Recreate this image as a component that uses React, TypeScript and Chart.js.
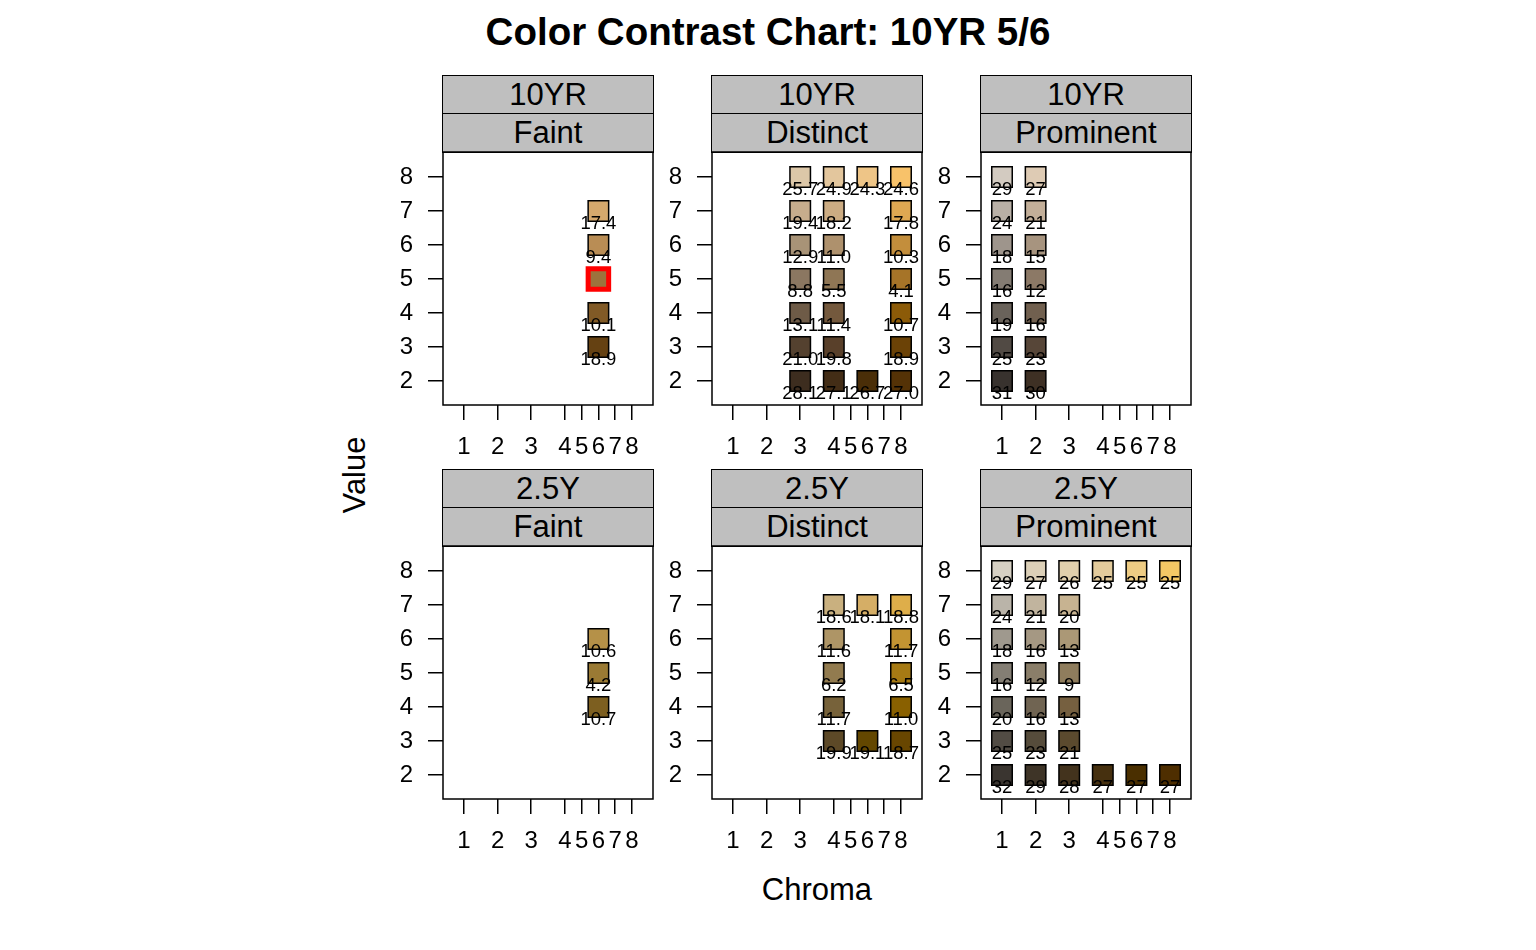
import React, { useEffect, useRef } from "react";
import { Chart, registerables } from "chart.js";
Chart.register(...registerables);

const FONT = "'Liberation Sans', Arial, Helvetica, sans-serif";

const chartTitle = "Color Contrast Chart: 10YR 5/6";
const xTitle = "Chroma";
const yTitle = "Value";
const hueRows = ["10YR", "2.5Y"];
const contrastCols = ["Faint", "Distinct", "Prominent"];
const chromaLevels = [1, 2, 3, 4, 6, 8];
const chromaTicks = [1, 2, 3, 4, 5, 6, 7, 8];
const valueTicks = [2, 3, 4, 5, 6, 7, 8];
const targetHue = "10YR";
const targetValue = 5;
const targetChroma = 6;

// 10YR Faint
const yr10FaintChroma = [6, 6, 6, 6, 6];
const yr10FaintValue = [7, 6, 5, 4, 3];
const yr10FaintLabel = ["17.4", "9.4", "", "10.1", "18.9"];
const yr10FaintColor = ["#D5A96D", "#B98D55", "#9D733D", "#815A26", "#654112"];

// 10YR Distinct
const yr10DistinctChroma = [3, 4, 6, 8, 3, 4, 8, 3, 4, 8, 3, 4, 8, 3, 4, 8, 3, 4, 8, 3, 4, 6, 8];
const yr10DistinctValue = [8, 8, 8, 8, 7, 7, 7, 6, 6, 6, 5, 5, 5, 4, 4, 4, 3, 3, 3, 2, 2, 2, 2];
const yr10DistinctLabel = ["25.7", "24.9", "24.3", "24.6", "19.4", "18.2", "17.8", "12.9", "11.0", "10.3", "8.8", "5.5", "4.1", "13.1", "11.4", "10.7", "21.0", "19.8", "18.9", "28.1", "27.1", "26.7", "27.0"];
const yr10DistinctColor = ["#DCC7A8", "#E3C69D", "#EEC587", "#F8C26A", "#C7AD8D", "#CCAC83", "#DFA852", "#A89377", "#AE916D", "#C38E3C", "#8B7761", "#8F7655", "#A67428", "#6E5B47", "#74593D", "#8C5B08", "#54412F", "#59402A", "#6B4206", "#3D2D1F", "#432D16", "#4A2E08", "#543206"];

// 10YR Prominent
const yr10ProminentChroma = [1, 2, 1, 2, 1, 2, 1, 2, 1, 2, 1, 2, 1, 2];
const yr10ProminentValue = [8, 8, 7, 7, 6, 6, 5, 5, 4, 4, 3, 3, 2, 2];
const yr10ProminentLabel = ["29", "27", "24", "21", "18", "15", "16", "12", "19", "16", "25", "23", "31", "30"];
const yr10ProminentColor = ["#D3CBC1", "#DECBB4", "#B9B0A6", "#C3AF99", "#9E958C", "#A7947F", "#847C73", "#8C7966", "#6A635B", "#71604F", "#514A44", "#574638", "#38322E", "#3E3024"];

// 2.5Y Faint
const y25FaintChroma = [6, 6, 6];
const y25FaintValue = [6, 5, 4];
const y25FaintLabel = ["10.6", "4.2", "10.7"];
const y25FaintColor = ["#B59148", "#9A7A34", "#7D5F20"];

// 2.5Y Distinct
const y25DistinctChroma = [4, 6, 8, 4, 8, 4, 8, 4, 8, 4, 6, 8];
const y25DistinctValue = [7, 7, 7, 6, 6, 5, 5, 4, 4, 3, 3, 3];
const y25DistinctLabel = ["18.6", "18.1", "18.8", "11.6", "11.7", "6.2", "6.5", "11.7", "11.0", "19.9", "19.1", "18.7"];
const y25DistinctColor = ["#C9B07F", "#D5AE66", "#DEAE4A", "#AE9566", "#C39432", "#927B4F", "#A67A14", "#77623A", "#896000", "#5D4927", "#634700", "#684600"];

// 2.5Y Prominent
const y25ProminentChroma = [1, 2, 3, 4, 6, 8, 1, 2, 3, 1, 2, 3, 1, 2, 3, 1, 2, 3, 1, 2, 3, 1, 2, 3, 4, 6, 8];
const y25ProminentValue = [8, 8, 8, 8, 8, 8, 7, 7, 7, 6, 6, 6, 5, 5, 5, 4, 4, 4, 3, 3, 3, 2, 2, 2, 2, 2, 2];
const y25ProminentLabel = ["29", "27", "26", "25", "25", "25", "24", "21", "20", "18", "16", "13", "16", "12", "9", "20", "16", "13", "25", "23", "21", "32", "29", "28", "27", "27", "27"];
const y25ProminentColor = ["#D6D0C3", "#DCD0B8", "#E1D0AC", "#E3CB9C", "#EECC84", "#F3C865", "#BAB4A9", "#C1B49E", "#C7B391", "#9F998E", "#A59883", "#AB9876", "#847E74", "#8A7E69", "#8F7D5D", "#6A655B", "#706452", "#766040", "#524C44", "#564C3B", "#5B4A2E", "#3A3530", "#3E3427", "#43331D", "#46300F", "#4A2F00", "#4E2E00"];

type PanelData = {
  hue: string;
  contrast: string;
  chroma: number[];
  value: number[];
  label: string[];
  color: string[];
};

const panels: PanelData[] = [
  { hue: hueRows[0], contrast: contrastCols[0], chroma: yr10FaintChroma, value: yr10FaintValue, label: yr10FaintLabel, color: yr10FaintColor },
  { hue: hueRows[0], contrast: contrastCols[1], chroma: yr10DistinctChroma, value: yr10DistinctValue, label: yr10DistinctLabel, color: yr10DistinctColor },
  { hue: hueRows[0], contrast: contrastCols[2], chroma: yr10ProminentChroma, value: yr10ProminentValue, label: yr10ProminentLabel, color: yr10ProminentColor },
  { hue: hueRows[1], contrast: contrastCols[0], chroma: y25FaintChroma, value: y25FaintValue, label: y25FaintLabel, color: y25FaintColor },
  { hue: hueRows[1], contrast: contrastCols[1], chroma: y25DistinctChroma, value: y25DistinctValue, label: y25DistinctLabel, color: y25DistinctColor },
  { hue: hueRows[1], contrast: contrastCols[2], chroma: y25ProminentChroma, value: y25ProminentValue, label: y25ProminentLabel, color: y25ProminentColor },
];

// chroma levels are spaced evenly; intermediate chroma values interpolate
function chromaPos(c: number): number {
  for (let i = 0; i < chromaLevels.length; i++) {
    if (chromaLevels[i] === c) return i + 1;
    if (i + 1 < chromaLevels.length && c > chromaLevels[i] && c < chromaLevels[i + 1]) {
      return i + 1 + (c - chromaLevels[i]) / (chromaLevels[i + 1] - chromaLevels[i]);
    }
  }
  return c;
}

// layout
const PANEL_W = 210;
const PLOT_H = 253;
const STRIP_H = 38;
const COL_LEFT = [443, 712, 981];
const ROW_STRIP_TOP = [76, 470];
const Y_AXIS_W = 63;
const X_AXIS_H = 60;
const PAD_TOP = 10;
const PAD_RIGHT = 6;

const boxPlugin = {
  id: "panelBox",
  afterDatasetsDraw(chart: any) {
    const { ctx, chartArea } = chart;
    ctx.save();
    ctx.strokeStyle = "#000";
    ctx.lineWidth = 1.5;
    ctx.strokeRect(chartArea.left, chartArea.top, chartArea.right - chartArea.left, chartArea.bottom - chartArea.top);
    ctx.restore();
  },
};

const labelPlugin = {
  id: "pointLabels",
  afterDraw(chart: any) {
    const { ctx } = chart;
    const ds = chart.data.datasets[0];
    const texts: string[] = ds.labelTexts || [];
    const meta = chart.getDatasetMeta(0);
    ctx.save();
    ctx.fillStyle = "#000";
    ctx.font = `18.5px ${FONT}`;
    ctx.textAlign = "center";
    ctx.textBaseline = "middle";
    meta.data.forEach((el: any, i: number) => {
      const t = texts[i];
      if (!t) return;
      ctx.fillText(t, el.x, el.y + 12.5);
    });
    ctx.restore();
  },
};

function zeroPadding(scale: any) {
  scale.paddingTop = 0;
  scale.paddingBottom = 0;
  scale.paddingLeft = 0;
  scale.paddingRight = 0;
}

function PanelChart({ panel, left, plotTop }: { panel: PanelData; left: number; plotTop: number }) {
  const ref = useRef<HTMLCanvasElement | null>(null);
  useEffect(() => {
    if (!ref.current) return;
    const isTarget = (i: number) =>
      panel.hue === targetHue && panel.chroma[i] === targetChroma && panel.value[i] === targetValue && panel.contrast === contrastCols[0];
    const borderColors = panel.chroma.map((_, i) => (isTarget(i) ? "#FF0000" : "#000000"));
    const borderWidths = panel.chroma.map((_, i) => (isTarget(i) ? 5 : 1.5));
    const chart = new Chart(ref.current, {
      type: "scatter",
      data: {
        datasets: [
          {
            data: panel.chroma.map((c, i) => ({ x: chromaPos(c), y: panel.value[i] })),
            labelTexts: panel.label,
            pointStyle: "rect",
            pointRadius: 14.5,
            pointHoverRadius: 14.5,
            pointBackgroundColor: panel.color,
            pointBorderColor: borderColors,
            pointBorderWidth: borderWidths,
            pointHoverBorderWidth: borderWidths,
            clip: false,
          } as any,
        ],
      },
      options: {
        animation: false,
        responsive: false,
        devicePixelRatio: 1,
        events: [],
        layout: { autoPadding: false, padding: { top: PAD_TOP, right: PAD_RIGHT, left: 0, bottom: 0 } },
        plugins: { legend: { display: false }, tooltip: { enabled: false }, title: { display: false } },
        scales: {
          x: {
            type: "linear",
            min: 0.375,
            max: 6.625,
            afterBuildTicks: (scale: any) => {
              scale.ticks = chromaTicks.map((c) => ({ value: chromaPos(c) }));
            },
            afterFit: (scale: any) => {
              scale.height = X_AXIS_H;
              zeroPadding(scale);
            },
            ticks: {
              autoSkip: false,
              maxRotation: 0,
              minRotation: 0,
              padding: 13,
              color: "#000",
              font: { family: FONT, size: 24 },
              callback: (_v: any, i: number) => String(chromaTicks[i]),
            },
            grid: { display: true, drawOnChartArea: false, drawTicks: true, tickLength: 15, color: "#000", lineWidth: 1.5 },
            border: { display: false },
          },
          y: {
            type: "linear",
            min: 1.294,
            max: 8.735,
            afterBuildTicks: (scale: any) => {
              scale.ticks = valueTicks.map((v) => ({ value: v }));
            },
            afterFit: (scale: any) => {
              scale.width = Y_AXIS_W;
              zeroPadding(scale);
            },
            ticks: {
              autoSkip: false,
              padding: 15,
              color: "#000",
              font: { family: FONT, size: 24 },
              callback: (v: any) => String(v),
            },
            grid: { display: true, drawOnChartArea: false, drawTicks: true, tickLength: 15, color: "#000", lineWidth: 1.5 },
            border: { display: false },
          },
        },
      } as any,
      plugins: [boxPlugin, labelPlugin],
    });
    return () => chart.destroy();
  }, [panel]);

  const w = Y_AXIS_W + PANEL_W + PAD_RIGHT;
  const h = PAD_TOP + PLOT_H + X_AXIS_H;
  return (
    <canvas
      ref={ref}
      width={w}
      height={h}
      style={{ position: "absolute", left: left - Y_AXIS_W, top: plotTop - PAD_TOP, width: w, height: h }}
    />
  );
}

function Strip({ text, left, top }: { text: string; left: number; top: number }) {
  return (
    <div
      style={{
        position: "absolute",
        left: left - 0.75,
        top: top - 0.75,
        width: PANEL_W + 1.5,
        height: STRIP_H + 1.5,
        boxSizing: "border-box",
        border: "1.5px solid #000",
        background: "#BFBFBF",
        fontSize: 31,
        lineHeight: `${STRIP_H}px`,
        textAlign: "center",
        color: "#000",
        whiteSpace: "nowrap",
      }}
    >
      {text}
    </div>
  );
}

export default function App() {
  return (
    <div
      style={{
        position: "absolute",
        left: 0,
        top: 0,
        width: 1536,
        height: 950,
        background: "#fff",
        fontFamily: FONT,
        overflow: "hidden",
      }}
    >
      <div
        style={{
          position: "absolute",
          left: 0,
          top: 11,
          width: 1536,
          textAlign: "center",
          fontWeight: "bold",
          fontSize: 38.5,
          lineHeight: "42px",
          color: "#000",
        }}
      >
        {chartTitle}
      </div>
      {panels.map((p, idx) => {
        const row = Math.floor(idx / 3);
        const col = idx % 3;
        const left = COL_LEFT[col];
        const stripTop = ROW_STRIP_TOP[row];
        const plotTop = stripTop + 2 * STRIP_H;
        return (
          <React.Fragment key={idx}>
            <Strip text={p.hue} left={left} top={stripTop} />
            <Strip text={p.contrast} left={left} top={stripTop + STRIP_H} />
            <PanelChart panel={p} left={left} plotTop={plotTop} />
          </React.Fragment>
        );
      })}
      <div
        style={{
          position: "absolute",
          left: 355 - 100,
          top: 475 - 20,
          width: 200,
          height: 40,
          lineHeight: "40px",
          textAlign: "center",
          fontSize: 31,
          color: "#000",
          transform: "rotate(-90deg)",
        }}
      >
        {yTitle}
      </div>
      <div
        style={{
          position: "absolute",
          left: 817 - 100,
          top: 890 - 20,
          width: 200,
          height: 40,
          lineHeight: "40px",
          textAlign: "center",
          fontSize: 31,
          color: "#000",
        }}
      >
        {xTitle}
      </div>
    </div>
  );
}
